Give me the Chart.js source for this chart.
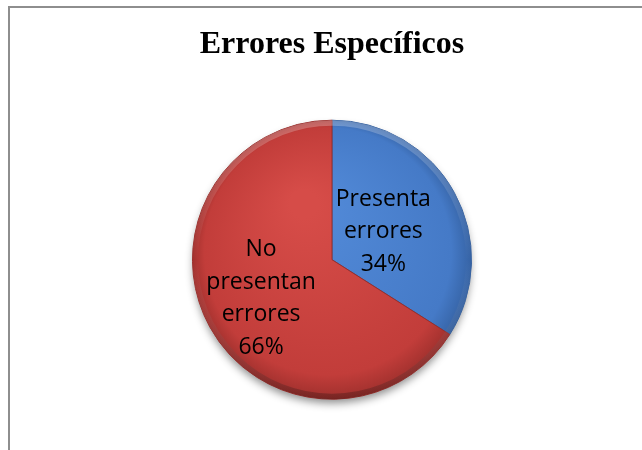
<!DOCTYPE html>
<html>
<head>
<meta charset="utf-8">
<script src="https://cdn.jsdelivr.net/npm/chart.js@4.4.1/dist/chart.umd.min.js"></script>
<style>
    html, body { margin: 0; padding: 0; background: #fff; }
    #wrap { position: relative; width: 642px; height: 450px; overflow: hidden; }
    #frame {
        position: absolute; left: 8px; top: 6px; width: 700px; height: 500px;
        border-left: 2px solid #8e8e8e; border-top: 2px solid #8e8e8e;
    }
    canvas { position: absolute; left: 0; top: 0; }
</style>
</head>
<body>
<div id="wrap">
    <div id="frame"></div>
    <canvas id="pieChart" width="642" height="450"></canvas>
</div>
<script>
// data
const categories = ['Presenta errores', 'No presentan errores'];
const values = [34, 66];
const chartTitle = 'Errores Específicos';

// colours: [light, mid, edge]
const sliceColors = [
    ['#528ad8', '#457ac7', '#335f9f'],
    ['#d64c48', '#c23d3a', '#9a2e2b']
];
// how far out (fraction of radius) each label sits
const labelRadius = [0.42, 0.58];

function sliceFill(context) {
    const chart = context.chart;
    const area = chart.chartArea;
    const c = sliceColors[context.dataIndex];
    if (!area) return c[1];
    const cx = (area.left + area.right) / 2;
    const cy = (area.top + area.bottom) / 2;
    const r = Math.min(area.right - area.left, area.bottom - area.top) / 2;
    const g = chart.ctx.createRadialGradient(cx - r * 0.2, cy - r * 0.4, r * 0.1, cx, cy, r * 1.02);
    g.addColorStop(0, c[0]);
    g.addColorStop(0.85, c[1]);
    g.addColorStop(1, c[2]);
    return g;
}

// soft shadow under the whole pie
const pieShadow = {
    id: 'pieShadow',
    beforeDatasetsDraw(chart) {
        const arc = chart.getDatasetMeta(0).data[0];
        if (!arc) return;
        const ctx = chart.ctx;
        ctx.save();
        ctx.shadowColor = 'rgba(0,0,0,0.45)';
        ctx.shadowBlur = 9;
        ctx.shadowOffsetY = 5;
        ctx.fillStyle = '#7a2a28';
        ctx.beginPath();
        ctx.arc(arc.x, arc.y, arc.outerRadius - 1, 0, Math.PI * 2);
        ctx.fill();
        ctx.restore();
    },
    afterDatasetsDraw(chart) {
        // bevel: light inner rim at the top, dark at the bottom
        const arc = chart.getDatasetMeta(0).data[0];
        if (!arc) return;
        const ctx = chart.ctx;
        const r = arc.outerRadius;
        ctx.save();
        ctx.beginPath();
        ctx.arc(arc.x, arc.y, r, 0, Math.PI * 2);
        ctx.clip();
        const g = ctx.createLinearGradient(0, arc.y - r, 0, arc.y + r);
        g.addColorStop(0, 'rgba(255,255,255,0.25)');
        g.addColorStop(0.5, 'rgba(255,255,255,0)');
        g.addColorStop(1, 'rgba(0,0,0,0.25)');
        ctx.strokeStyle = g;
        ctx.lineWidth = 7;
        ctx.beginPath();
        ctx.arc(arc.x, arc.y, r - 2, 0, Math.PI * 2);
        ctx.stroke();
        ctx.restore();
    }
};

// labels inside the slices: category words one per line, then the percent
const sliceLabels = {
    id: 'sliceLabels',
    afterDatasetsDraw(chart) {
        const ctx = chart.ctx;
        const meta = chart.getDatasetMeta(0);
        const total = values.reduce((a, b) => a + b, 0);
        ctx.save();
        ctx.font = '23px "Open Sans", sans-serif';
        ctx.fillStyle = '#000';
        ctx.textAlign = 'center';
        ctx.textBaseline = 'middle';
        meta.data.forEach((arc, i) => {
            const p = arc.getProps(['x', 'y', 'startAngle', 'endAngle', 'outerRadius'], true);
            const mid = (p.startAngle + p.endAngle) / 2;
            const d = p.outerRadius * labelRadius[i];
            const x = p.x + Math.cos(mid) * d;
            const y = p.y + Math.sin(mid) * d;
            const lines = categories[i].split(' ');
            lines.push(Math.round(values[i] / total * 100) + '%');
            const lh = 32.5;
            const y0 = y - (lines.length - 1) * lh / 2;
            lines.forEach((t, k) => ctx.fillText(t, x, y0 + k * lh));
        });
        ctx.restore();
    }
};

const ctx = document.getElementById('pieChart').getContext('2d');
const pieChart = new Chart(ctx, {
    type: 'pie',
    data: {
        labels: categories,
        datasets: [{
            data: values,
            backgroundColor: sliceFill,
            borderColor: sliceColors.map(c => c[2]),
            borderWidth: 1
        }]
    },
    options: {
        responsive: false,
        animation: false,
        layout: { padding: { left: 192, right: 170, top: 20, bottom: 50 } },
        plugins: {
            legend: { display: false },
            tooltip: { enabled: false },
            title: {
                display: true,
                text: chartTitle,
                color: '#000',
                font: { family: '"Liberation Serif", "Times New Roman", serif', size: 32, weight: 'bold' },
                padding: { top: 6, bottom: 55 }
            }
        }
    },
    plugins: [pieShadow, sliceLabels]
});
</script>
</body>
</html>
